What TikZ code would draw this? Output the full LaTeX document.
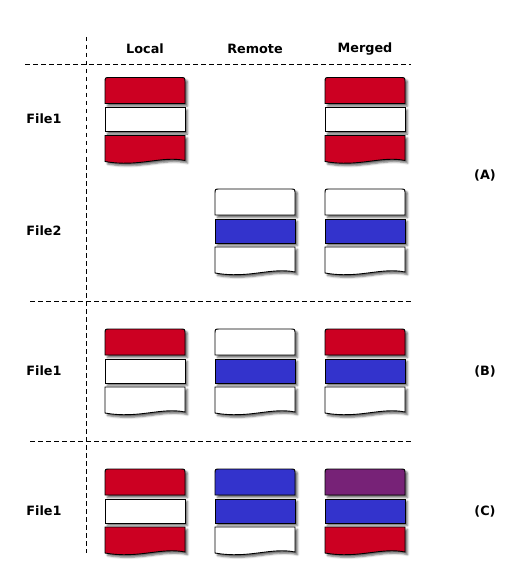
\documentclass[tikz,border=0pt]{standalone}
\usepackage{fontspec}
\setmainfont{DejaVu Sans}
\usetikzlibrary{shadows.blur}

\definecolor{chgred}{RGB}{204,0,34}
\definecolor{chgblue}{RGB}{51,51,204}
\definecolor{chgpurple}{RGB}{119,34,119}

% one file: top, middle and bottom hunk at #1
\newcommand{\filestack}[4]{%
  \begin{scope}[shift={(#1)}]
    \draw[hunk, fill=#2] (0,26) -- (0,5) .. controls (0,0) .. (5,0) -- (75,0) .. controls (80,0) .. (80,5) -- (80,26) -- cycle;
    \draw[hunk, fill=#3] (0,30) rectangle (80,54);
    \draw[hunk, fill=#4] (0,58) -- (80,58) -- (80,83) .. controls (56,78) and (34,90) .. (0,84) -- cycle;
  \end{scope}}

\begin{document}
\begin{tikzpicture}[
  x=1pt, y=-1pt,
  hunk/.style={draw=black, line width=0.9pt, blur shadow={shadow xshift=2.5pt, shadow yshift=-2.5pt, shadow blur radius=2pt, shadow opacity=60}},
  lbl/.style={font=\bfseries\fontsize{12.8}{14}\selectfont, inner sep=0pt},
  grid/.style={line width=0.8pt, dash pattern=on 4.5pt off 3.5pt}
]
\useasboundingbox (0,0) rectangle (520,588);

% column headers
\node[lbl] (hdrlocal)  at (145,49) {Local};
\node[lbl] (hdrremote) at (255,49) {Remote};
\node[lbl] (hdrmerged) at (365,49) {Merged};

% grid
\draw[grid] (86,37) -- (86,553);
\draw[grid] (25,64) -- (411,64);
\draw[grid] (30,301) -- (411,301);
\draw[grid] (30,441) -- (411,441);

% (A)
\node[lbl] (rowAone) at (44,119) {File1};
\node[lbl] (rowAtwo) at (44,231) {File2};
\node[lbl] (tagA) at (485,175) {(A)};
\filestack{105,77.5}{chgred}{white}{chgred}
\filestack{325,77.5}{chgred}{white}{chgred}
\filestack{215,189}{white}{chgblue}{white}
\filestack{325,189}{white}{chgblue}{white}

% (B)
\node[lbl] (rowB) at (44,371) {File1};
\node[lbl] (tagB) at (485,371) {(B)};
\filestack{105,329}{chgred}{white}{white}
\filestack{215,329}{white}{chgblue}{white}
\filestack{325,329}{chgred}{chgblue}{white}

% (C)
\node[lbl] (rowC) at (44,511) {File1};
\node[lbl] (tagC) at (485,511) {(C)};
\filestack{105,469}{chgred}{white}{chgred}
\filestack{215,469}{chgblue}{chgblue}{white}
\filestack{325,469}{chgpurple}{chgblue}{chgred}

\end{tikzpicture}
\end{document}
